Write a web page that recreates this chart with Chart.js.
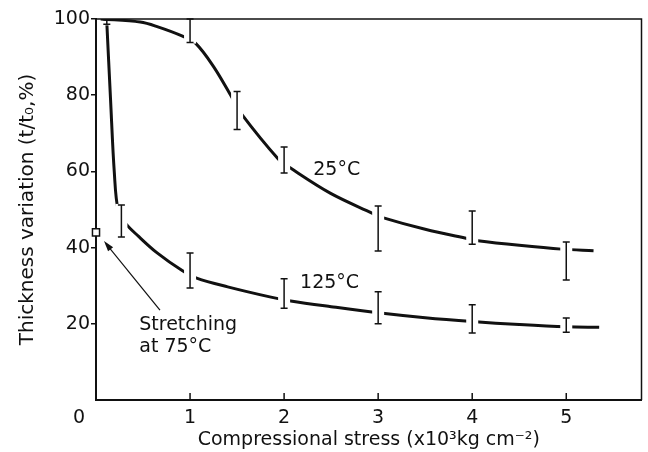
<!DOCTYPE html>
<html>
<head>
<meta charset="utf-8">
<script src="https://cdn.jsdelivr.net/npm/chart.js@4.4.1/dist/chart.umd.min.js"></script>
<style>
  html, body { margin: 0; padding: 0; background: #fff; }
</style>
</head>
<body>
<canvas id="canvas" width="648" height="452"></canvas>
<script>
// curves (stress in 10^3 kg cm^-2, thickness in %)
const curve25X = [0.05, 0.47, 0.65, 0.92, 1.06, 1.25, 1.45, 1.54, 1.94, 2.06, 2.49, 2.94, 3.03, 3.5, 3.96, 4.06, 4.5, 4.95, 5.29];
const curve25Y = [100, 99.2, 98, 95.5, 93.6, 87.5, 79.2, 75.3, 63.2, 61, 54.3, 49, 48, 44.8, 42.3, 41.8, 40.6, 39.6, 39.2];
const curve125X = [0.115, 0.155, 0.195, 0.235, 0.31, 0.45, 0.65, 0.92, 1.07, 1.4, 1.86, 2.07, 2.5, 3, 3.5, 4, 4.5, 5, 5.35];
const curve125Y = [99, 78.7, 59.6, 49.9, 46.5, 43, 38.6, 33.9, 32, 29.7, 27, 26, 24.5, 22.9, 21.6, 20.6, 19.8, 19.2, 19.1];

// error bars
const bar25X = [1, 1.5, 2, 3, 4, 5];
const bar25Low = [93.8, 71, 59.6, 39.1, 40.9, 31.5];
const bar25High = [100, 81, 66.4, 50.9, 49.6, 41.5];
const bar125X = [0.115, 0.27, 1, 2, 3, 4, 5];
const bar125Low = [98.6, 42.8, 29.4, 24.1, 20, 17.6, 17.8];
const bar125High = [99.8, 51.2, 38.6, 31.8, 28.4, 25, 21.5];

// stretching at 75 C
const stretchX = [0];
const stretchY = [44];

const xTicks = [0, 1, 2, 3, 4, 5];
const yTicks = [20, 40, 60, 80, 100];

const ink = '#111';
const fontFamily = "'DejaVu Sans', sans-serif";
Chart.defaults.font.family = fontFamily;
Chart.defaults.font.size = 19;
Chart.defaults.color = ink;

const toPoints = (xs, ys) => xs.map((v, i) => ({ x: v, y: ys[i] }));

const barSets = [
  { xs: bar25X, lo: bar25Low, hi: bar25High },
  { xs: bar125X, lo: bar125Low, hi: bar125High },
];

const extras = {
  id: 'extras',
  // break each curve where its error bars sit
  afterDatasetDraw(chart, args) {
    const set = barSets[args.index];
    if (!set) return;
    const { ctx, scales: { x, y } } = chart;
    ctx.save();
    ctx.fillStyle = '#fff';
    set.xs.forEach((v, i) => {
      const px = x.getPixelForValue(v);
      const top = y.getPixelForValue(set.hi[i]);
      const bot = y.getPixelForValue(set.lo[i]);
      ctx.fillRect(px - 6, top - 1, 12, bot - top + 2);
    });
    ctx.restore();
  },
  afterDatasetsDraw(chart) {
    const { ctx, chartArea: a, scales: { x, y } } = chart;
    ctx.save();
    ctx.strokeStyle = ink;
    ctx.fillStyle = ink;

    // error bars
    ctx.lineWidth = 1.5;
    barSets.forEach(set => {
      set.xs.forEach((v, i) => {
        const px = x.getPixelForValue(v);
        const top = y.getPixelForValue(set.hi[i]);
        const bot = y.getPixelForValue(set.lo[i]);
        ctx.beginPath();
        ctx.moveTo(px, top); ctx.lineTo(px, bot);
        ctx.moveTo(px - 3.5, top); ctx.lineTo(px + 3.5, top);
        ctx.moveTo(px - 3.5, bot); ctx.lineTo(px + 3.5, bot);
        ctx.stroke();
      });
    });

    // frame top and right, inside x ticks
    ctx.lineWidth = 1.5;
    ctx.beginPath();
    ctx.moveTo(a.left, a.top); ctx.lineTo(a.right, a.top); ctx.lineTo(a.right, a.bottom);
    xTicks.forEach(v => {
      if (v === 0) return;
      const px = x.getPixelForValue(v);
      ctx.moveTo(px, a.bottom); ctx.lineTo(px, a.bottom - 7);
    });
    ctx.stroke();

    // the shared origin label
    ctx.font = '19px ' + fontFamily;
    ctx.textAlign = 'center';
    ctx.textBaseline = 'middle';
    ctx.fillText('0', a.left - 17, a.bottom + 18);

    // curve labels
    ctx.textAlign = 'left';
    ctx.fillText('25°C', x.getPixelForValue(2.31), y.getPixelForValue(60.4));
    ctx.fillText('125°C', x.getPixelForValue(2.17), y.getPixelForValue(30.7));
    ctx.fillText('Stretching', x.getPixelForValue(0.46), y.getPixelForValue(19.7));
    ctx.fillText('at 75°C', x.getPixelForValue(0.46), y.getPixelForValue(13.9));

    // arrow to the stretching point
    const x0 = x.getPixelForValue(0.68), y0 = y.getPixelForValue(23.6);
    const x1 = x.getPixelForValue(0.085), y1 = y.getPixelForValue(41.7);
    const ang = Math.atan2(y1 - y0, x1 - x0);
    ctx.lineWidth = 1.2;
    ctx.beginPath();
    ctx.moveTo(x0, y0); ctx.lineTo(x1 - 6 * Math.cos(ang), y1 - 6 * Math.sin(ang));
    ctx.stroke();
    ctx.beginPath();
    ctx.moveTo(x1, y1);
    ctx.lineTo(x1 - 11 * Math.cos(ang - 0.3), y1 - 11 * Math.sin(ang - 0.3));
    ctx.lineTo(x1 - 11 * Math.cos(ang + 0.3), y1 - 11 * Math.sin(ang + 0.3));
    ctx.closePath();
    ctx.fill();
    ctx.restore();
  }
};

const curveStyle = {
  borderColor: ink,
  borderWidth: 3,
  pointRadius: 0,
  fill: false,
  tension: 0.35,
  showLine: true,
};

const ctx = document.getElementById('canvas');
new Chart(ctx, {
  type: 'scatter',
  data: {
    datasets: [
      { label: '25°C', data: toPoints(curve25X, curve25Y), ...curveStyle },
      { label: '125°C', data: toPoints(curve125X, curve125Y), ...curveStyle },
      {
        label: 'Stretching at 75°C',
        data: toPoints(stretchX, stretchY),
        pointStyle: 'rect',
        pointRadius: 5,
        backgroundColor: '#fff',
        borderColor: ink,
        borderWidth: 1.5,
        clip: false,
      },
    ]
  },
  options: {
    responsive: false,
    animation: false,
    layout: { padding: { top: 19, right: 6, left: 0, bottom: 0 } },
    plugins: {
      legend: { display: false },
      tooltip: { enabled: false },
    },
    scales: {
      x: {
        type: 'linear',
        min: 0,
        max: 5.8,
        afterBuildTicks: s => { s.ticks = xTicks.map(v => ({ value: v })); },
        afterFit: s => { s.height = 52; },
        grid: { display: false, drawTicks: false },
        border: { display: true, color: ink, width: 2 },
        ticks: {
          padding: 7,
          maxRotation: 0,
          callback: v => (v === 0 ? '' : v),
        },
        title: {
          display: true,
          text: 'Compressional stress (x10³kg cm⁻²)',
          padding: { top: 0, bottom: 1 },
        },
      },
      y: {
        type: 'linear',
        min: 0,
        max: 100,
        afterBuildTicks: s => { s.ticks = yTicks.map(v => ({ value: v })); },
        afterFit: s => { s.width = 96; },
        grid: { drawOnChartArea: false, drawTicks: true, tickLength: 5, color: ink, lineWidth: 1.5 },
        border: { display: true, color: ink, width: 2 },
        ticks: { padding: 1 },
        title: {
          display: true,
          text: 'Thickness variation (t/t₀,%)',
          font: { size: 20 },
          padding: { top: 16, bottom: 0 },
        },
      },
    },
  },
  plugins: [extras],
});
</script>
</body>
</html>
